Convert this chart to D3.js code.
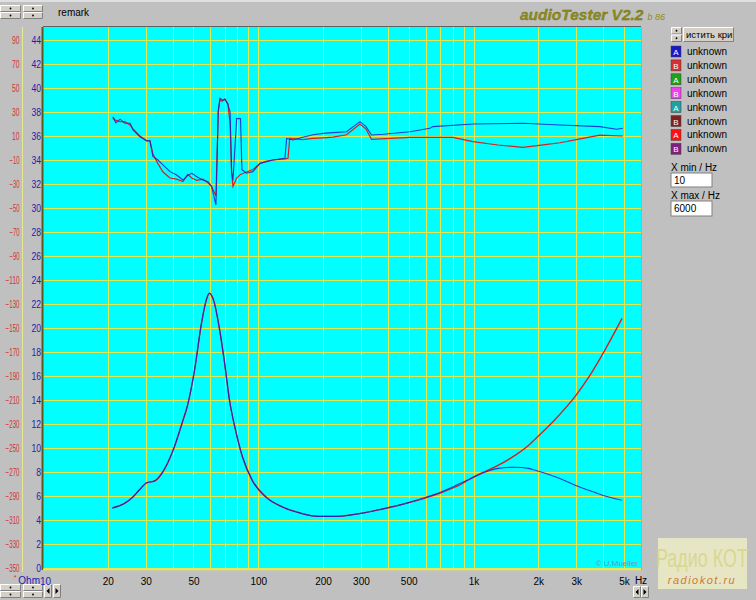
<!DOCTYPE html>
<html><head><meta charset="utf-8">
<script src="https://cdn.jsdelivr.net/npm/d3@7"></script>
<style>
body{margin:0;background:#c0c0c0;}
svg{display:block;font-family:"Liberation Sans",Arial,sans-serif;}
</style>
</head><body>
<svg id="c" width="756" height="600"></svg>
<script>
// ---------- DATA ----------
const freqTicks = [10,20,30,50,100,200,300,500,1000,2000,3000,5000];
const freqTickLabels = ["10","20","30","50","100","200","300","500","1k","2k","3k","5k"];
const gridFreqs = [20,30,40,50,60,70,80,90,100,200,300,400,500,600,700,800,900,1000,2000,3000,4000,5000];
const ohmTicks = [0,2,4,6,8,10,12,14,16,18,20,22,24,26,28,30,32,34,36,38,40,42,44];
const phaseTicks = [-350,-330,-310,-290,-270,-250,-230,-210,-190,-170,-150,-130,-110,-90,-70,-50,-30,-10,10,30,50,70,90];

const impFreq = [21,24,26.1,28,30.3,33,36,40,44.5,47,50.6,54.5,57.3,59.2,62.3,65.8,69.5,73.5,79,84.5,93.8,108.8,129,155,190,230,264,300,363,420,500,600,700,880,1000,1136,1300,1564,1800,1936,2400,2967,3400,3914,4900];
const impBlue = [5.0,5.4,5.9,6.5,7.1,7.25,8.0,9.7,12.2,13.6,16.5,20.4,22.3,22.9,22.2,20.1,17.3,14.0,11.25,9.25,7.3,5.9,5.1,4.6,4.3,4.3,4.4,4.55,4.85,5.1,5.45,5.9,6.3,7.1,7.55,8.0,8.3,8.4,8.3,8.15,7.6,6.9,6.5,6.1,5.65];
const impRed  = [5.0,5.4,5.9,6.5,7.1,7.25,8.0,9.7,12.2,13.6,16.5,20.4,22.3,22.9,22.2,20.1,17.3,14.0,11.25,9.25,7.3,5.9,5.1,4.6,4.3,4.3,4.4,4.55,4.85,5.1,5.45,5.85,6.25,7.0,7.6,8.05,8.55,9.4,10.2,10.75,12.4,14.3,15.8,17.6,20.8];

const phaseBlueFreq = [21.1,21.8,22.8,24.0,25.4,26.2,28.2,30.3,31.4,32.4,34.2,36.1,38.9,41.8,44.7,47,49.1,51.8,55.3,58.4,60.7,63.6,65.2,66.4,68,70.0,72.3,74,75.2,76.3,79.4,82.7,84.0,88.3,94.4,101.9,109.4,117,133,135.5,145,161,179.5,200,222,257,297,316,336,380,507,627,648,994,1696,2519,3865,4620,4940];
const phaseBlue = [26,21,24,20.6,20.6,15,9.4,6,6,-7,-10,-14,-19.7,-22.5,-26.7,-23,-21,-24,-26.7,-28,-32,-47.5,31.7,41.4,40,40.5,36,30,-20,-27,24.7,24.5,-18,-21,-19.7,-12.7,-11.4,-10,-8.6,8,6.7,8.9,11,12.2,12.8,13.6,22,18,10.8,11.4,13.6,16.4,17.8,20,20.6,19.2,17.8,15.6,16.4];
const phaseRedFreq = [21.1,21.8,22.8,24.0,25.4,26.2,28.2,30.3,31.4,32.4,34.2,36.1,38.9,41.8,44.7,47,49.1,51.8,55.3,58.4,60.7,63.6,65.2,66.4,68,70.0,72.3,74,75.2,76.3,79.4,82.7,88.3,94.4,101.9,109.4,117,133,137.5,140,161,179.5,200,222,257,297,316,336,507,800,994,1300,1696,2200,2519,3000,3865,4940];
const phaseRed = [25,23,22,22,19,16,10,6,6,-5,-13,-20,-25,-26,-28,-22,-25,-27,-26,-29,-32,-40,30,40,39,41,37,20,-20,-32,-25,-22,-20,-18,-13,-11,-10,-9,-8.6,8,7,8,8.5,9,11,20,16,7.2,8.9,8.9,5.3,2.5,0.6,3.0,4.4,7,10.8,10];

const legendLetters = ["A","B","A","B","A","B","A","B"];
const legendColors = ["#1818c8","#d83030","#20a020","#f040f0","#20a0a0","#802020","#ff1010","#802080"];
const legendNames = ["unknown","unknown","unknown","unknown","unknown","unknown","unknown","unknown"];

// ---------- SCALES ----------
const svg = d3.select("#c");
const X0 = 43, X1 = 641, Y0 = 568, YT = 27;
const x = d3.scaleLog().domain([10,6000]).range([X0,X1]);
const yOhm = d3.scaleLinear().domain([0,44]).range([Y0,40]);
const yPh = d3.scaleLinear().domain([-350,90]).range([Y0,40]);

// ---------- BEVEL BUTTON HELPERS ----------
function button(g, bx, by, w, h){
  g.append("rect").attr("x",bx).attr("y",by).attr("width",w).attr("height",h).attr("fill","#d4d0c8");
  g.append("path").attr("d",`M${bx+0.5},${by+h-0.5}V${by+0.5}H${bx+w-0.5}`).attr("stroke","#fff").attr("fill","none");
  g.append("path").attr("d",`M${bx+0.5},${by+h-0.5}H${bx+w-0.5}V${by+0.5}`).attr("stroke","#808080").attr("fill","none");
}
function spinner(g, bx, by, w, h){
  button(g,bx,by,w,h/2); button(g,bx,by+h/2,w,h/2);
  g.append("circle").attr("cx",bx+w/2).attr("cy",by+h/4).attr("r",0.9).attr("fill","#000");
  g.append("circle").attr("cx",bx+w/2).attr("cy",by+3*h/4).attr("r",0.9).attr("fill","#000");
}
function arrowBtn(g,bx,by,w,h,dir){
  button(g,bx,by,w,h);
  const cx=bx+w/2, cy=by+h/2;
  g.append("path").attr("d", dir<0 ? `M${cx+1.5},${cy-3}L${cx-1.5},${cy}L${cx+1.5},${cy+3}Z` : `M${cx-1.5},${cy-3}L${cx+1.5},${cy}L${cx-1.5},${cy+3}Z`).attr("fill","#000");
}

const ui = svg.append("g");
svg.append("rect").attr("x",0).attr("y",0).attr("width",756).attr("height",2).attr("fill","#e0e0e0");
spinner(ui,0,5,21,14); spinner(ui,23,5,20,14);
svg.append("text").attr("x",58).attr("y",16).attr("font-size",10).attr("fill","#000").text("remark");

// title
const title = svg.append("text").attr("x",520).attr("y",20).attr("font-size",15.5).attr("font-weight","bold").attr("font-style","italic")
  .attr("fill","#8c8c1c").attr("stroke","#707010").attr("stroke-width",0.3).text("audioTester V2.2");
const tw = title.node().getComputedTextLength();
svg.append("text").attr("x",520 + tw + 4).attr("y",20).attr("font-size",9).attr("font-style","italic").attr("fill","#8c8c1c").text("b 86");

// left pale line
svg.append("line").attr("x1",22.5).attr("x2",22.5).attr("y1",YT).attr("y2",572).attr("stroke","#e8e890").attr("stroke-width",1);

// ---------- PLOT AREA ----------
svg.append("rect").attr("x",X0).attr("y",YT).attr("width",X1-X0).attr("height",Y0+1-YT).attr("fill","#00ffff");

const gridCol = "#e4e84a";
svg.append("g").selectAll("line").data(ohmTicks).join("line")
  .attr("x1",X0).attr("x2",X1).attr("y1",d=>Math.round(yOhm(d))+0.5).attr("y2",d=>Math.round(yOhm(d))+0.5)
  .attr("stroke",gridCol).attr("stroke-width",1);
svg.append("g").selectAll("line").data(gridFreqs).join("line")
  .attr("y1",YT).attr("y2",Y0+1).attr("x1",d=>Math.round(x(d))+0.5).attr("x2",d=>Math.round(x(d))+0.5)
  .attr("stroke",gridCol).attr("stroke-width",1);

// borders
svg.append("line").attr("x1",X0).attr("x2",X1).attr("y1",YT-0.5).attr("y2",YT-0.5).attr("stroke","#606060");
svg.append("line").attr("x1",X0-0.5).attr("x2",X0-0.5).attr("y1",YT).attr("y2",Y0+2).attr("stroke","#5a5a20").attr("stroke-width",2);
svg.append("line").attr("x1",X1+0.5).attr("x2",X1+0.5).attr("y1",YT).attr("y2",Y0+2).attr("stroke","#40e0a0");
svg.append("line").attr("x1",X0).attr("x2",X1).attr("y1",Y0+1.5).attr("y2",Y0+1.5).attr("stroke","#e8e860").attr("stroke-width",1.5);

svg.append("text").attr("x",638).attr("y",566).attr("text-anchor","end").attr("font-size",8).attr("fill","#7890b8").text("© U.Mueller");

// ---------- CURVES ----------
const lineImp = (fs)=>d3.line().x((d,i)=>x(fs[i])).y(d=>yOhm(d)).curve(d3.curveMonotoneX);
const linePh = (fs)=>d3.line().x((d,i)=>x(fs[i])).y(d=>yPh(d));
svg.append("path").attr("d",lineImp(impFreq)(impRed)).attr("fill","none").attr("stroke","#d82020").attr("stroke-width",1.4);
svg.append("path").attr("d",lineImp(impFreq)(impBlue)).attr("fill","none").attr("stroke","#2020c8").attr("stroke-width",1.1).attr("opacity",0.85);
svg.append("path").attr("d",linePh(phaseRedFreq)(phaseRed)).attr("fill","none").attr("stroke","#d82020").attr("stroke-width",1.2);
svg.append("path").attr("d",linePh(phaseBlueFreq)(phaseBlue)).attr("fill","none").attr("stroke","#2020c8").attr("stroke-width",1.1).attr("opacity",0.85);

// ---------- AXES ----------
const ax = svg.append("g").attr("transform",`translate(0,${Y0+10})`)
  .call(d3.axisBottom(x).tickValues(freqTicks).tickFormat((d,i)=>freqTickLabels[i]).tickSize(0).tickPadding(0));
ax.select(".domain").remove();
ax.selectAll("text").attr("font-size",10).attr("fill","#000").attr("font-family","Liberation Sans, Arial, sans-serif");
ax.selectAll(".tick").filter(d=>d===10).select("text").attr("fill","#2020b0").attr("dx",2);
svg.append("text").attr("x",641).attr("y",Y0+16).attr("text-anchor","middle").attr("font-size",10).text("Hz");
svg.append("text").attr("x",40).attr("y",Y0+16).attr("text-anchor","end").attr("font-size",10).attr("fill","#2020b0").text("Ohm");
svg.append("text").attr("x",15).attr("y",Y0+12).attr("text-anchor","middle").attr("font-size",7).attr("fill","#d03030").text("*");

const ay = svg.append("g").attr("transform",`translate(41,0)`)
  .call(d3.axisLeft(yOhm).tickValues(ohmTicks).tickSize(0).tickPadding(0));
ay.select(".domain").remove();
ay.selectAll("text").attr("font-size",11).attr("fill","#2020b0").attr("font-family","Liberation Sans, Arial, sans-serif")
  .attr("textLength",d=>String(d).length*4.8).attr("lengthAdjust","spacingAndGlyphs");

const ap = svg.append("g").attr("transform",`translate(19.5,0)`)
  .call(d3.axisLeft(yPh).tickValues(phaseTicks).tickSize(0).tickPadding(0));
ap.select(".domain").remove();
ap.selectAll("text").attr("font-size",10).attr("fill","#d83030").attr("font-family","Liberation Sans, Arial, sans-serif")
  .attr("textLength",d=>String(d).replace("-","").length*3.8+(d<0?2.5:0)).attr("lengthAdjust","spacingAndGlyphs");

// bottom widgets
spinner(ui,0,584,21,14); spinner(ui,23,584,20,14);
arrowBtn(ui,44,584,8,14,-1); arrowBtn(ui,53,584,8,14,1);
arrowBtn(ui,633,586,8,12,-1); arrowBtn(ui,641,586,8,12,1);

// ---------- RIGHT PANEL ----------
spinner(ui,671,27,11,15);
button(ui,683,27,51,15);
svg.append("svg").attr("x",684).attr("y",27).attr("width",49).attr("height",15)
  .append("text").attr("x",2).attr("y",11).attr("font-size",9.5).attr("fill","#000").text("истить кривые");

const lg = svg.append("g").selectAll("g").data(legendNames).join("g")
  .attr("transform",(d,i)=>`translate(671,${46 + i*13.9})`);
lg.append("rect").attr("width",10).attr("height",11).attr("fill",(d,i)=>legendColors[i]).attr("stroke","#404040").attr("stroke-width",0.5);
lg.append("text").attr("x",5).attr("y",9).attr("text-anchor","middle").attr("font-size",8).attr("fill","#fff").text((d,i)=>legendLetters[i]);
lg.append("text").attr("x",16).attr("y",9).attr("font-size",10).attr("fill","#000").text(d=>d);

svg.append("text").attr("x",671).attr("y",171).attr("font-size",10).text("X min / Hz");
svg.append("rect").attr("x",671).attr("y",173).attr("width",41).attr("height",14).attr("fill","#fff").attr("stroke","#808080");
svg.append("text").attr("x",674).attr("y",184).attr("font-size",10).text("10");
svg.append("text").attr("x",671).attr("y",199).attr("font-size",10).text("X max / Hz");
svg.append("rect").attr("x",671).attr("y",201).attr("width",41).attr("height",15).attr("fill","#fff").attr("stroke","#808080");
svg.append("text").attr("x",674).attr("y",212).attr("font-size",10).text("6000");

// radiokot logo
svg.append("rect").attr("x",658).attr("y",538).attr("width",89).attr("height",51).attr("fill","#e6e6c4");
svg.append("text").attr("x",702).attr("y",567).attr("text-anchor","middle").attr("font-size",24).attr("fill","#d8d890")
  .attr("transform","translate(702,567) scale(0.75,1.1) translate(-702,-567)").text("Радио КОТ");
svg.append("text").attr("x",702).attr("y",584).attr("text-anchor","middle").attr("font-size",11).attr("font-style","italic")
  .attr("letter-spacing",1.5).attr("fill","#d07838").text("radiokot.ru");
</script>
</body></html>
